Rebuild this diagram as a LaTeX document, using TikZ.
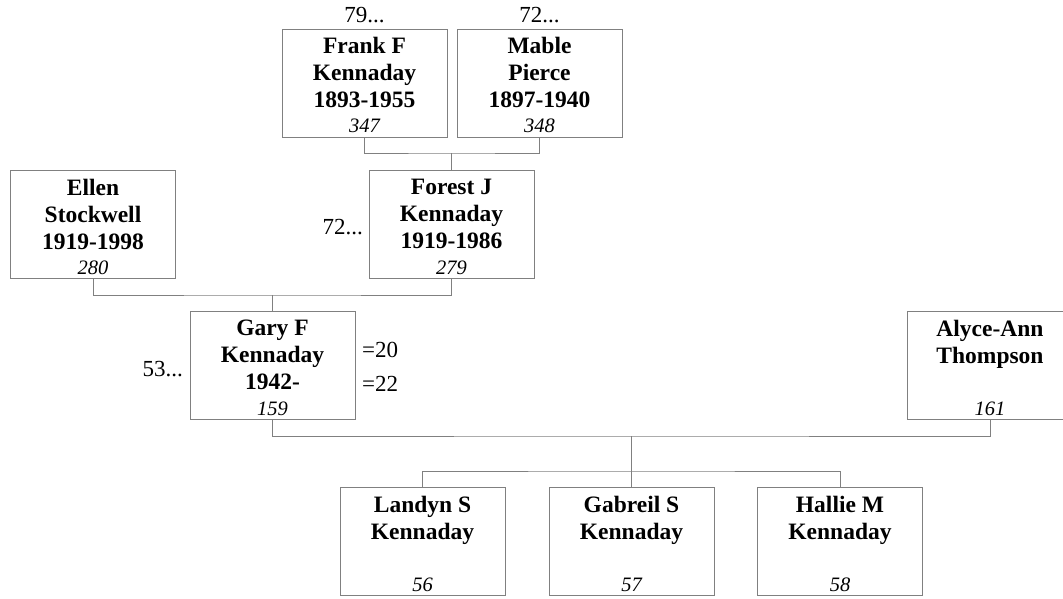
\documentclass[tikz,border=0pt]{standalone}
\usepackage{fontspec}
\setmainfont{Liberation Serif}
\definecolor{linegray}{RGB}{128,128,128}
\begin{document}
\begin{tikzpicture}[x=1pt,y=-1pt,
  pbox/.style={draw=linegray,line width=1pt,minimum width=165pt,minimum height=108pt,inner sep=0pt},
  pname/.style={anchor=north,align=center,inner sep=0pt,font=\fontsize{23.5}{27}\selectfont\bfseries},
  pnum/.style={anchor=base,inner sep=0pt,font=\fontsize{20.5}{24}\selectfont\itshape},
  side/.style={inner sep=0pt,font=\fontsize{23}{27}\selectfont},
  conn/.style={draw=linegray,line width=1pt}]
\clip (0,0) rectangle (1063,598);
% boxes
\node[pbox] (frank) at (364.5,83) {};
\node[pbox] (mable) at (539.5,83) {};
\node[pbox] (ellen) at (93,224.5) {};
\node[pbox] (forest) at (451.5,224.5) {};
\node[pbox] (gary) at (272.5,365.5) {};
\node[pbox] (alyce) at (990,365.5) {};
\node[pbox] (landyn) at (422.5,541.5) {};
\node[pbox] (gabreil) at (631.5,541.5) {};
\node[pbox] (hallie) at (840,541.5) {};
% names
\node[pname] (frankN) at ([yshift=-8.5pt]frank.north) {Frank F\\Kennaday\\1893-1955};
\node[pname] (mableN) at ([yshift=-8.5pt]mable.north) {Mable\\Pierce\\1897-1940};
\node[pname] (ellenN) at ([yshift=-8.5pt]ellen.north) {Ellen\\Stockwell\\1919-1998};
\node[pname] (forestN) at ([yshift=-8.5pt]forest.north) {Forest J\\Kennaday\\1919-1986};
\node[pname] (garyN) at ([yshift=-8.5pt]gary.north) {Gary F\\Kennaday\\1942-};
\node[pname] (alyceN) at ([yshift=-8.5pt]alyce.north) {Alyce-Ann\\Thompson};
\node[pname] (landynN) at ([yshift=-8.5pt]landyn.north) {Landyn S\\Kennaday};
\node[pname] (gabreilN) at ([yshift=-8.5pt]gabreil.north) {Gabreil S\\Kennaday};
\node[pname] (hallieN) at ([yshift=-8.5pt]hallie.north) {Hallie M\\Kennaday};
% numbers
\node[pnum] (frankI) at ([yshift=5pt]frank.south) {347};
\node[pnum] (mableI) at ([yshift=5pt]mable.south) {348};
\node[pnum] (ellenI) at ([yshift=5pt]ellen.south) {280};
\node[pnum] (forestI) at ([yshift=5pt]forest.south) {279};
\node[pnum] (garyI) at ([yshift=5pt]gary.south) {159};
\node[pnum] (alyceI) at ([yshift=5pt]alyce.south) {161};
\node[pnum] (landynI) at ([yshift=5pt]landyn.south) {56};
\node[pnum] (gabreilI) at ([yshift=5pt]gabreil.south) {57};
\node[pnum] (hallieI) at ([yshift=5pt]hallie.south) {58};
% side labels
\node[side,anchor=base] (s79) at (364.5,22) {79...};
\node[side,anchor=base] (s72a) at (539.5,22) {72...};
\node[side,anchor=base east] (s72b) at (363,234) {72...};
\node[side,anchor=base east] (s53) at (183,376) {53...};
\node[side,anchor=base west] (s20) at (362,357) {=20};
\node[side,anchor=base west] (s22) at (362,391.5) {=22};
% connectors
\coordinate (fm) at (451.5,153);
\coordinate (ef) at (272.5,295);
\coordinate (ga) at (631.5,436);
\coordinate (kids) at (631.5,471);
\draw[conn] (frank.south) |- (fm) -| (mable.south);
\draw[conn] (fm) -- (forest.north);
\draw[conn] (ellen.south) |- (ef) -| (forest.south);
\draw[conn] (ef) -- (gary.north);
\draw[conn] (gary.south) |- (ga) -| (alyce.south);
\draw[conn] (ga) -- (kids);
\draw[conn] (landyn.north) |- (kids) -| (hallie.north);
\draw[conn] (kids) -- (gabreil.north);
\end{tikzpicture}
\end{document}
